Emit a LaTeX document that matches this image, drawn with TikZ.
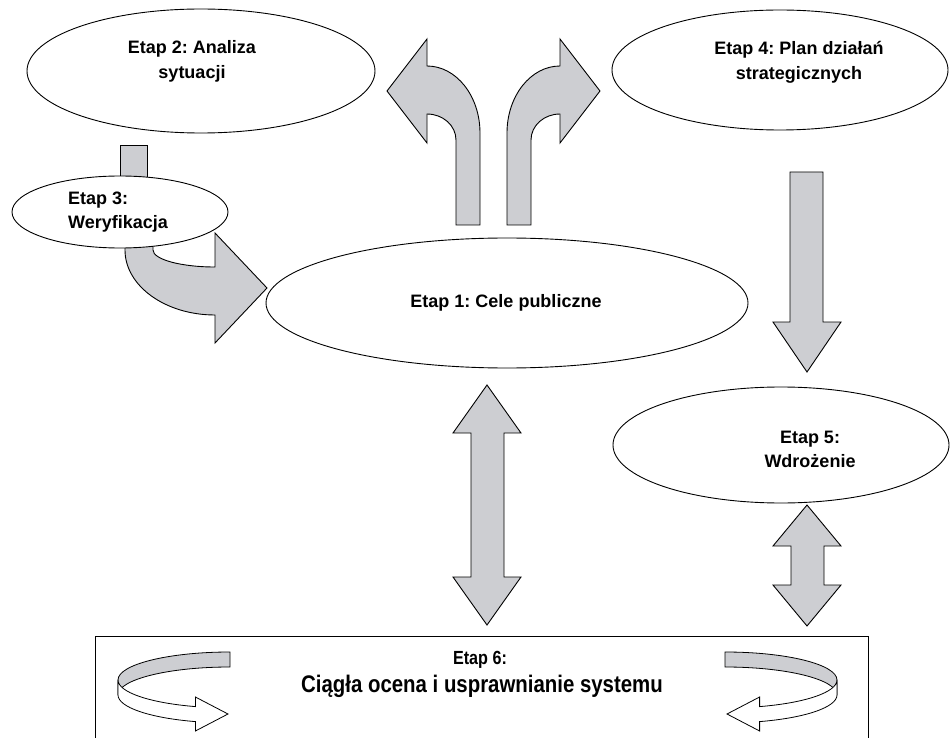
\documentclass[tikz,border=0pt]{standalone}
\usepackage{fontspec}
\setmainfont{Liberation Sans}
\newfontfamily\narrowfont[FakeStretch=0.85]{Liberation Sans}
\usetikzlibrary{shapes.geometric}
\definecolor{arrgray}{RGB}{205,206,210}
\frenchspacing
\begin{document}
\begin{tikzpicture}[x=1pt,y=-1pt,
  ell/.style={ellipse, draw=black, line width=0.9pt, fill=white, inner sep=0pt},
  blk/.style={draw=black, line width=0.9pt, fill=arrgray, line join=miter},
  lbl/.style={font=\bfseries\fontsize{18}{21}\selectfont, inner sep=0pt, anchor=base},
  lblw/.style={lbl, anchor=base west},
  ribbonpic/.pic={
    \draw[line width=0.8pt, fill=arrgray] (230,652) .. controls (168.2,652) and (118,664.5) .. (118,680)
      -- (118,695) .. controls (118,679.5) and (168.2,667) .. (230,667) -- cycle;
    \draw[line width=0.8pt, fill=white, line join=miter] (118,680) .. controls (118,692.1) and (149.3,702.9) .. (195.4,706.6)
      -- (195.4,697) -- (228,714) -- (195.4,731) -- (195.4,721.6)
      .. controls (149.3,717.9) and (118,707.1) .. (118,695) -- cycle;
  }
]
\path[use as bounding box] (0,0) rectangle (951,738);

% ---- block arrows (drawn first, behind ellipses) ----
\draw[blk] (120,145) rectangle (147,190);
\draw[blk] (125,235) -- (125,250) .. controls (125,285.9) and (165.3,315) .. (215,315)
  -- (215,343) -- (267,288) -- (215,233) -- (215,267)
  .. controls (180.8,267) and (153,259.4) .. (153,250) -- (153,235) -- cycle;
\draw[blk] (456,225) -- (456,140) .. controls (456,125.6) and (443,114) .. (427,114)
  -- (427,143) -- (387,91) -- (427,39) -- (427,66)
  .. controls (456.3,66) and (480,96) .. (480,133) -- (480,225) -- cycle;
\draw[blk] (531,225) -- (531,140) .. controls (531,125.6) and (544,114) .. (560,114)
  -- (560,143) -- (600,91) -- (560,39) -- (560,66)
  .. controls (530.7,66) and (507,96) .. (507,133) -- (507,225) -- cycle;
\draw[blk] (790,172) -- (823,172) -- (823,322) -- (841,322) -- (807,372) -- (773,322) -- (790,322) -- cycle;
\draw[blk] (487,385) -- (521,433) -- (504,433) -- (504,577) -- (521,577) -- (487,625)
  -- (453,577) -- (471,577) -- (471,433) -- (453,433) -- cycle;
\draw[blk] (807,505) -- (841,546) -- (824,546) -- (824,585) -- (841,585) -- (807,626)
  -- (773,585) -- (791,585) -- (791,546) -- (773,546) -- cycle;

% ---- ellipses ----
\node[ell, minimum width=348pt, minimum height=124pt] (e2) at (201,71) {};
\node[ell, minimum width=336pt, minimum height=120pt] (e4) at (780,70) {};
\node[ell, minimum width=216pt, minimum height=72pt] (e3) at (120,212) {};
\node[ell, minimum width=482pt, minimum height=130pt] (e1) at (507,303) {};
\node[ell, minimum width=336pt, minimum height=116pt] (e5) at (781,445) {};

% ---- labels ----
\node[lbl] (t2a) at (192,54) {Etap 2: Analiza};
\node[lbl] (t2b) at (192,79) {sytuacji};
\node[lbl] (t4a) at (799,55) {Etap 4: Plan działań};
\node[lbl] (t4b) at (799,80) {strategicznych};
\node[lblw] (t3a) at (68,205) {Etap 3:};
\node[lblw] (t3b) at (68,229) {Weryfikacja};
\node[lbl] (t1) at (506,307) {Etap 1: Cele publiczne};
\node[lbl] (t5a) at (810,443) {Etap 5:};
\node[lbl] (t5b) at (810,467) {Wdrożenie};

% ---- Etap 6 frame ----
\node[draw=black, line width=0.9pt, minimum width=773pt, minimum height=130pt, inner sep=0pt, anchor=north west] (e6) at (95,636) {};
\node[inner sep=0pt, anchor=base, font=\narrowfont\bfseries\fontsize{19}{22}\selectfont] (t6a) at (480,664) {Etap 6:};
\node[inner sep=0pt, anchor=base, font=\narrowfont\bfseries\fontsize{24}{28}\selectfont] (t6b) at (482,692) {Ciągła ocena i usprawnianie systemu};

% ---- rotating ribbons ----
\pic at (0,0) {ribbonpic};
\pic[xscale=-1] at (955,0) {ribbonpic};
\end{tikzpicture}
\end{document}
